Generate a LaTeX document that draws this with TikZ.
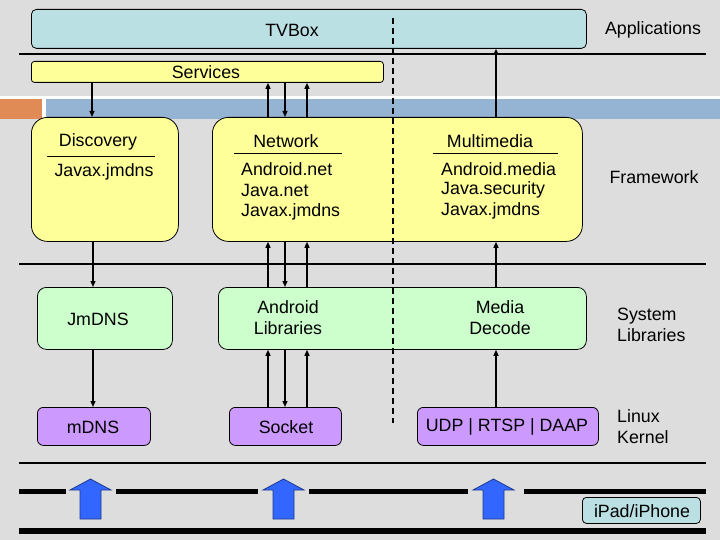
\documentclass[tikz,border=0pt]{standalone}
\usepackage{fontspec}
\setmainfont{Liberation Sans}
\usetikzlibrary{arrows.meta}
\definecolor{bg}{HTML}{DDDDDD}
\definecolor{cyanbox}{HTML}{BBE0E3}
\definecolor{yel}{HTML}{FFFF99}
\definecolor{grn}{HTML}{CCFFCC}
\definecolor{pur}{HTML}{CC99FF}
\definecolor{orng}{HTML}{E08A55}
\definecolor{band}{HTML}{95B3D3}
\definecolor{barrow}{HTML}{3366FF}
\definecolor{barrowedge}{HTML}{1F3A8C}
\tikzset{
  box/.style={draw=black, line width=0.8pt, inner sep=0pt, anchor=north west},
  txt/.style={font=\fontsize{17.8}{21}\selectfont, inner sep=0pt, align=center},
  ltxt/.style={font=\fontsize{17.8}{21}\selectfont, inner sep=0pt, anchor=west, align=left},
  arr/.style={line width=1.3pt, -{Triangle[length=6pt,width=5pt]}},
  sep/.style={line width=2pt},
  thickbar/.style={line width=5pt},
  ul/.style={line width=0.8pt},
  blockarrow/.style={fill=barrow, draw=barrowedge, line width=0.8pt}
}
\begin{document}
\begin{tikzpicture}[x=1pt,y=-1pt]
\useasboundingbox (0,0) rectangle (720,540);
\fill[bg] (0,0) rectangle (720,540);

% header bands
\fill[white] (0,96.5) rectangle (720,99);
\fill[orng] (0,99) rectangle (42,119);
\fill[white] (42,99) rectangle (46,119);
\fill[band] (46,99) rectangle (720,119);

% separators
\draw[sep] (19,54) -- (706,54);
\draw[sep] (19,264) -- (706,264);
\draw[line width=1.6pt] (19,463) -- (706,463);
\draw[thickbar] (19,491) -- (66,491);
\draw[thickbar] (116,491) -- (258,491);
\draw[thickbar] (309,491) -- (468,491);
\draw[thickbar] (524,491) -- (706,491);
\draw[line width=6pt] (19,530.5) -- (706,530.5);

% Applications
\node[box, fill=cyanbox, rounded corners=5pt, minimum width=555pt, minimum height=39pt] (tv) at (31,9) {};
\node[txt] (tvl) at (292,30) {TVBox};
\node[txt] (appl) at (653,30) {Applications};

% Services
\node[box, fill=yel, rounded corners=3pt, minimum width=352pt, minimum height=21pt] (svc) at (31,61) {};
\node[txt] (svcl) at (206,72) {Services};

% Framework
\node[box, fill=yel, rounded corners=16pt, minimum width=147pt, minimum height=124pt] (disc) at (31,117) {};
\node[box, fill=yel, rounded corners=16pt, minimum width=370pt, minimum height=124pt] (fw) at (212,117) {};
\node[txt] (discl) at (98,142) {Discovery};
\draw[ul] (47,156.5) -- (155,156.5);
\node[txt] (discj) at (104,172) {Javax.jmdns};
\node[txt] (netl) at (286,141) {Network};
\draw[ul] (234,153) -- (342,153);
\node[ltxt] (net1) at (241,169) {Android.net};
\node[ltxt] (net2) at (241,190.5) {Java.net};
\node[ltxt] (net3) at (241,211.5) {Javax.jmdns};
\node[txt] (mml) at (490,141) {Multimedia};
\draw[ul] (433,153) -- (558,153);
\node[ltxt] (mm1) at (441,169) {Android.media};
\node[ltxt] (mm2) at (441,190) {Java.security};
\node[ltxt] (mm3) at (441,211) {Javax.jmdns};
\node[txt] (fwl) at (654,177) {Framework};

% System libraries
\node[box, fill=grn, rounded corners=9pt, minimum width=135pt, minimum height=62pt] (jm) at (37,287) {};
\node[txt] (jml) at (98,319) {JmDNS};
\node[box, fill=grn, rounded corners=9pt, minimum width=368pt, minimum height=62pt] (alib) at (218,287) {};
\node[txt] (alibl) at (288,318) {Android\\Libraries};
\node[txt] (mdl) at (500,318) {Media\\Decode};
\node[ltxt] (sysl) at (617,325) {System\\Libraries};

% Kernel
\node[box, fill=pur, rounded corners=6pt, minimum width=113pt, minimum height=38pt] (mdns) at (37,407) {};
\node[txt] (mdnsl) at (93,427) {mDNS};
\node[box, fill=pur, rounded corners=6pt, minimum width=112pt, minimum height=38pt] (sock) at (229,407) {};
\node[txt] (sockl) at (286,427) {Socket};
\node[box, fill=pur, rounded corners=6pt, minimum width=181pt, minimum height=38pt] (udp) at (417,407) {};
\node[txt] (udpl) at (507,427) {UDP | RTSP | DAAP};
\node[ltxt] (kern) at (617,426.5) {Linux\\Kernel};

% device
\node[box, fill=cyanbox, rounded corners=4pt, minimum width=118pt, minimum height=26pt] (ipad) at (582,497) {};
\node[txt] (ipadl) at (642,511) {iPad/iPhone};

% dashed divider
\draw[line width=1.5pt, dash pattern=on 6pt off 4pt] (393,18) -- (393,423);

% connectors
\draw[arr] (svc.south -| 92,0) -- (disc.north -| 92,0);
\draw[arr] (fw.north -| 268,0) -- (svc.south -| 268,0);
\draw[arr] (svc.south -| 285,0) -- (fw.north -| 285,0);
\draw[arr] (fw.north -| 307,0) -- (svc.south -| 307,0);
\draw[arr] (fw.north -| 496,0) -- (tv.south -| 496,0);

\draw[arr] (disc.south -| 93,0) -- (jm.north -| 93,0);
\draw[arr] (alib.north -| 268,0) -- (fw.south -| 268,0);
\draw[arr] (fw.south -| 285,0) -- (alib.north -| 285,0);
\draw[arr] (alib.north -| 307,0) -- (fw.south -| 307,0);
\draw[arr] (alib.north -| 496,0) -- (fw.south -| 496,0);

\draw[arr] (jm.south -| 93,0) -- (mdns.north -| 93,0);
\draw[arr] (sock.north -| 268,0) -- (alib.south -| 268,0);
\draw[arr] (alib.south -| 285,0) -- (sock.north -| 285,0);
\draw[arr] (sock.north -| 307,0) -- (alib.south -| 307,0);
\draw[arr] (udp.north -| 496,0) -- (alib.south -| 496,0);

% block arrows
\draw[blockarrow] (80,519) -- (80,490) -- (70,490) -- (90.5,479) -- (111,490) -- (101,490) -- (101,519) -- cycle;
\draw[blockarrow] (273,519) -- (273,490) -- (263,490) -- (283.5,479) -- (304,490) -- (294,490) -- (294,519) -- cycle;
\draw[blockarrow] (483,519) -- (483,490) -- (473,490) -- (493.5,479) -- (514,490) -- (504,490) -- (504,519) -- cycle;
\end{tikzpicture}
\end{document}
